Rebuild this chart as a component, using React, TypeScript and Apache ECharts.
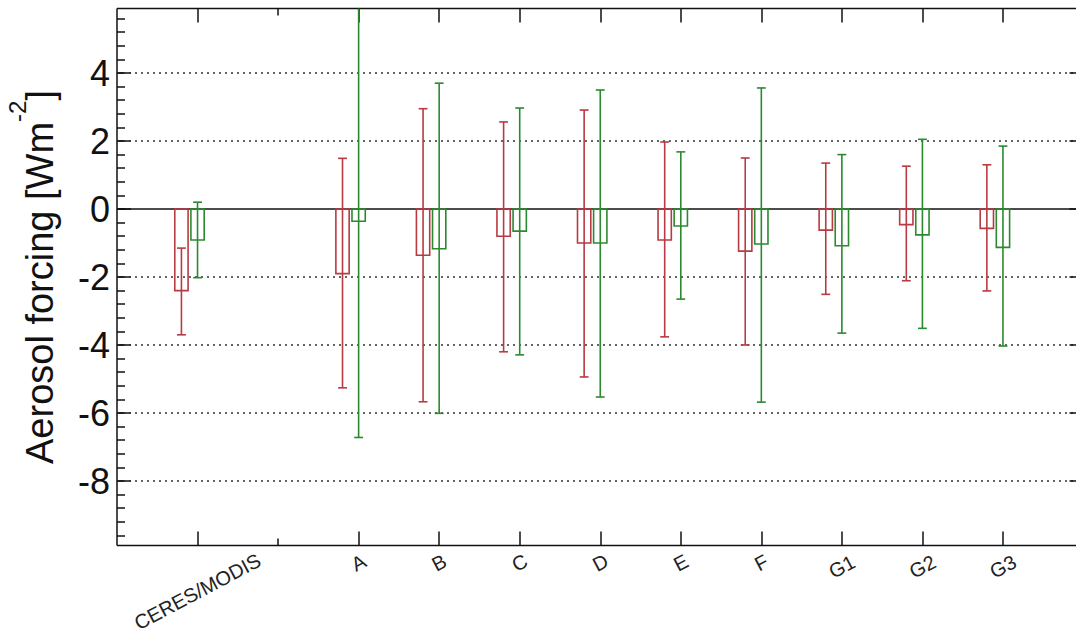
import React, { useEffect, useRef } from 'react';
import * as echarts from 'echarts';

// ---- data ----
const categories = ['CERES/MODIS', 'A', 'B', 'C', 'D', 'E', 'F', 'G1', 'G2', 'G3'];
// slot of each category on the x axis (slot 1 is an empty gap after CERES/MODIS)
const slots = [0, 2, 3, 4, 5, 6, 7, 8, 9, 10];
const gapSlots = [1];

const redBar = [-2.4, -1.9, -1.36, -0.8, -1.0, -0.91, -1.24, -0.62, -0.46, -0.57];
const redLow = [-3.7, -5.26, -5.67, -4.2, -4.94, -3.76, -4.0, -2.51, -2.11, -2.41];
const redHigh = [-1.15, 1.49, 2.95, 2.56, 2.91, 1.97, 1.5, 1.35, 1.26, 1.3];

const greenBar = [-0.91, -0.36, -1.17, -0.65, -1.0, -0.5, -1.03, -1.08, -0.76, -1.13];
const greenLow = [-2.02, -6.72, -6.01, -4.29, -5.53, -2.65, -5.68, -3.65, -3.51, -4.03];
const greenHigh = [0.2, 6.5, 3.7, 2.97, 3.5, 1.68, 3.56, 1.6, 2.05, 1.85];

const yTickLabels = [-8, -6, -4, -2, 0, 2, 4];
const gridValues = [4, 2, -2, -4, -6, -8];
const yMin = -9.9;
const yMax = 5.9;
const xMin = -1;
const xMax = 11;

const minorTicks: number[] = [];
for (let k = -24; k <= 14; k++) minorTicks.push(Math.round(k * 4) / 10);

const RED = '#b83a42';
const GREEN = '#2b8a2f';
const INK = '#111';
const FONT = '"Liberation Sans", Arial, Helvetica, sans-serif';

function labelFor(v: number) {
  const i = slots.indexOf(Math.round(v));
  return i >= 0 ? categories[i] : '';
}

function makeRender(offsetUnits: number, color: string) {
  return (params: any, api: any) => {
    const x = api.value(0);
    const bar = api.value(1);
    const low = api.value(2);
    const high = api.value(3);
    const cs = params.coordSys;
    const unit = api.size([1, 0])[0];
    const p0 = api.coord([x, 0]);
    const pb = api.coord([x, bar]);
    const pl = api.coord([x, low]);
    const ph = api.coord([x, high]);
    const cx = p0[0] + offsetUnits * unit;
    const bw = unit * 0.165;
    const cap = unit * 0.11;
    const top = cs.y;
    const bottom = cs.y + cs.height;
    const lw = 1.6;
    const children: any[] = [];
    children.push({
      type: 'rect',
      shape: { x: cx - bw / 2, y: Math.min(p0[1], pb[1]), width: bw, height: Math.abs(pb[1] - p0[1]) },
      style: { fill: 'none', stroke: color, lineWidth: lw },
    });
    const yh = Math.max(ph[1], top);
    const yl = Math.min(pl[1], bottom);
    children.push({ type: 'line', shape: { x1: cx, y1: yh, x2: cx, y2: yl }, style: { stroke: color, lineWidth: lw } });
    if (ph[1] >= top) {
      children.push({ type: 'line', shape: { x1: cx - cap / 2, y1: ph[1], x2: cx + cap / 2, y2: ph[1] }, style: { stroke: color, lineWidth: lw } });
    }
    if (pl[1] <= bottom) {
      children.push({ type: 'line', shape: { x1: cx - cap / 2, y1: pl[1], x2: cx + cap / 2, y2: pl[1] }, style: { stroke: color, lineWidth: lw } });
    }
    return { type: 'group', children };
  };
}

// frame, zero line, dotted grid lines and right-side ticks, all through the axis scales
function renderFrame(params: any, api: any) {
  const children: any[] = [];
  const seg = (a: number[], b: number[], extra: any = {}) =>
    children.push({ type: 'line', shape: { x1: a[0], y1: a[1], x2: b[0], y2: b[1] }, style: { stroke: INK, lineWidth: 1.5, ...extra } });
  gridValues.forEach((v) => {
    seg(api.coord([xMin, v]), api.coord([xMax, v]), { stroke: '#333', lineWidth: 1.6, lineDash: [2, 4] });
  });
  seg(api.coord([xMin, 0]), api.coord([xMax, 0]));
  seg(api.coord([xMin, yMin]), api.coord([xMax, yMin]));
  seg(api.coord([xMin, yMax]), api.coord([xMax, yMax]));
  seg(api.coord([xMin, yMin]), api.coord([xMin, yMax]));
  seg(api.coord([xMax, yMin]), api.coord([xMax, yMax]));
  yTickLabels.forEach((v) => {
    const p = api.coord([xMax, v]);
    seg([p[0] - 14, p[1]], p);
  });
  return { type: 'group', children };
}

export default function App() {
  const ref = useRef<HTMLDivElement>(null);
  useEffect(() => {
    if (!ref.current) return;
    const chart = echarts.init(ref.current, undefined, { renderer: 'svg' });

    const baseX: any = {
      type: 'value',
      min: xMin,
      max: xMax,
      splitLine: { show: false },
      axisLine: { show: false, onZero: false },
      axisTick: { show: false },
      axisLabel: { show: false },
    };
    const labelStyle = {
      rotate: 28,
      align: 'center',
      verticalAlign: 'middle',
      fontSize: 20,
      color: '#222',
      fontFamily: FONT,
      formatter: (v: number) => labelFor(v),
    };
    const singleSlots = slots.filter((s, i) => categories[i].length === 1);
    const doubleSlots = slots.filter((s, i) => categories[i].length === 2);
    const longSlots = slots.filter((s, i) => categories[i].length > 2);

    const baseY: any = {
      type: 'value',
      min: yMin,
      max: yMax,
      splitLine: { show: false },
      axisLine: { show: false, onZero: false },
      axisTick: { show: false },
      axisLabel: { show: false },
    };
    const tickLine = { color: INK, width: 1.5 };

    const toData = (bar: number[], low: number[], high: number[]) =>
      slots.map((s, i) => [s, bar[i], low[i], high[i]]);

    const option: any = {
      animation: false,
      backgroundColor: '#fff',
      grid: { left: 117, top: 8.4, width: 966.5, height: 537.2, containLabel: false, outerBoundsMode: 'none' },
      xAxis: [
        {
          ...baseX,
          position: 'bottom',
          axisTick: { show: true, inside: true, length: 14, customValues: slots, lineStyle: tickLine },
          axisLabel: { show: true, customValues: singleSlots, margin: 17, ...labelStyle },
        },
        {
          ...baseX,
          position: 'bottom',
          axisTick: { show: true, inside: true, length: 7, customValues: gapSlots, lineStyle: tickLine },
          axisLabel: { show: true, customValues: longSlots, margin: 46, ...labelStyle },
        },
        {
          ...baseX,
          position: 'bottom',
          axisLabel: { show: true, customValues: doubleSlots, margin: 21, ...labelStyle },
        },
        {
          ...baseX,
          position: 'top',
          axisTick: { show: true, inside: true, length: 14, customValues: slots, lineStyle: tickLine },
        },
        {
          ...baseX,
          position: 'top',
          axisTick: { show: true, inside: true, length: 7, customValues: gapSlots, lineStyle: tickLine },
        },
      ],
      yAxis: [
        {
          ...baseY,
          position: 'left',
          axisTick: { show: true, inside: true, length: 14, customValues: yTickLabels, lineStyle: tickLine },
          axisLabel: {
            show: true,
            customValues: yTickLabels,
            margin: 7,
            fontSize: 36,
            color: INK,
            fontFamily: FONT,
            formatter: (v: number) => String(v),
          },
          name: '{t|Aerosol forcing [Wm}{s|-2}{t|]}',
          nameLocation: 'middle',
          nameRotate: 90,
          nameGap: 58,
          nameTextStyle: {
            color: INK,
            fontFamily: FONT,
            fontSize: 38,
            rich: {
              t: { fontSize: 38, fontFamily: FONT, color: INK, lineHeight: 54, verticalAlign: 'bottom' },
              s: { fontSize: 24, fontFamily: FONT, color: INK, lineHeight: 54, verticalAlign: 'top' },
            },
          },
        },
        {
          ...baseY,
          position: 'left',
          axisTick: { show: true, inside: true, length: 8, customValues: minorTicks, lineStyle: tickLine },
        },
      ],
      series: [
        {
          type: 'custom',
          name: 'frame',
          xAxisIndex: 0,
          yAxisIndex: 0,
          silent: true,
          renderItem: renderFrame,
          encode: { x: 0, y: 1 },
          data: [[0, 0]],
          z: 1,
        },
        {
          type: 'custom',
          name: 'red',
          xAxisIndex: 0,
          yAxisIndex: 0,
          renderItem: makeRender(-0.2, RED),
          encode: { x: 0, y: [1, 2, 3] },
          data: toData(redBar, redLow, redHigh),
          z: 5,
        },
        {
          type: 'custom',
          name: 'green',
          xAxisIndex: 0,
          yAxisIndex: 0,
          renderItem: makeRender(0, GREEN),
          encode: { x: 0, y: [1, 2, 3] },
          data: toData(greenBar, greenLow, greenHigh),
          z: 5,
        },
      ],
    };
    chart.setOption(option);
    return () => chart.dispose();
  }, []);
  return (
    <div
      ref={ref}
      style={{ position: 'fixed', left: 0, top: 0, width: 1100, height: 635, background: '#fff' }}
    />
  );
}
